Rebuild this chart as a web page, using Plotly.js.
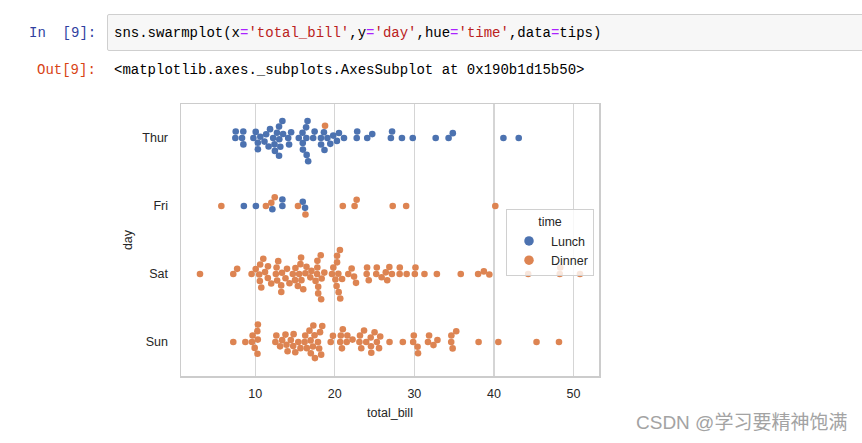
<!DOCTYPE html>
<html>
<head>
<meta charset="utf-8">
<script src="https://cdn.plot.ly/plotly-3.0.1.min.js"></script>
<style>
  html, body { margin:0; padding:0; background:#fff; width:862px; height:443px; overflow:hidden; }
  #chart { position:absolute; left:0; top:0; width:862px; height:443px; }
  .mono { font-family: "Liberation Mono", "DejaVu Sans Mono", monospace; font-size:14px; white-space:pre; position:absolute; line-height:16px; }
  #inprompt { left:29px; top:25px; color:#303F9F; }
  #outprompt { left:37px; top:62px; color:#D84315; }
  #inbox { position:absolute; left:107px; top:14px; width:770px; height:35px; background:#f7f7f7; border:1px solid #cfcfcf; border-radius:2px; }
  #code { left:114px; top:25px; color:#000; }
  #outtext { left:114px; top:62px; color:#000; }
  .s { color:#BA2121; }
  .o { color:#AA22FF; }
  #wm { position:absolute; left:636px; top:413px; font-family:"Liberation Sans","Noto Sans CJK SC",sans-serif; font-size:19px; line-height:20px; color:#a3a3a3; white-space:nowrap; text-shadow:0 0 1px #fff; }
</style>
</head>
<body>
<div id="chart"></div>
<div id="inbox"></div>
<div class="mono" id="inprompt">In  [9]:</div>
<div class="mono" id="code">sns.swarmplot(x<span class="o">=</span><span class="s">'total_bill'</span>,y<span class="o">=</span><span class="s">'day'</span>,hue<span class="o">=</span><span class="s">'time'</span>,data<span class="o">=</span>tips)</div>
<div class="mono" id="outprompt">Out[9]:</div>
<div class="mono" id="outtext">&lt;matplotlib.axes._subplots.AxesSubplot at 0x190b1d15b50&gt;</div>
<div id="wm">CSDN @学习要精神饱满</div>
<script>
// ---- data (tips dataset, total_bill by day and time) ----
const days = ["Thur", "Fri", "Sat", "Sun"];
const hues = ["Lunch", "Dinner"];
const xTicks = [10, 20, 30, 40, 50];

const thurLunch = [27.2,22.76,17.29,19.44,16.66,10.07,32.68,15.98,34.83,13.03,18.28,24.71,21.16,
  10.65,12.43,24.08,11.69,13.42,14.26,15.95,12.48,29.8,8.52,14.52,11.38,22.82,19.08,20.27,11.17,12.26,
  18.26,8.51,10.33,14.15,16.0,13.16,17.47,34.3,41.19,27.05,16.43,8.35,18.64,11.87,9.78,7.51,
  19.81,28.44,15.48,16.58,7.56,10.34,43.11,13.0,13.51,18.71,12.74,13.0,16.4,20.53,16.47];
const thurDinner = [18.78];
const friLunch = [12.16,13.42,8.58,15.98,13.42,16.27,10.09];
const friDinner = [28.97,22.49,5.75,16.32,22.75,40.17,27.28,12.03,21.01,12.46,11.35,15.38];
const satLunch = [];
const satDinner = [20.65,17.92,20.29,15.77,39.42,19.82,17.81,13.37,12.69,21.7,19.65,9.55,18.35,15.06,20.69,
  17.78,24.06,16.31,16.93,18.69,31.27,16.04,
  38.01,26.41,11.24,48.27,20.29,13.81,11.02,18.29,17.59,20.08,16.45,3.07,20.23,15.01,12.02,17.07,26.86,
  25.28,14.73,10.51,17.92,
  44.3,22.42,20.92,15.36,20.49,25.21,18.24,14.31,14.0,7.25,
  10.59,10.63,50.81,15.81,
  26.59,38.73,24.27,12.76,30.06,25.89,48.33,13.27,28.17,12.9,28.15,11.59,7.74,30.14,
  20.45,13.28,22.12,24.01,15.69,11.61,10.77,15.53,10.07,12.6,32.83,35.83,29.03,27.18,22.67,17.82];
const sunLunch = [];
const sunDinner = [16.99,10.34,21.01,23.68,24.59,25.29,8.77,26.88,15.04,14.78,10.27,35.26,15.42,18.43,
  14.83,21.58,10.33,16.29,16.97,
  17.46,13.94,9.68,30.4,18.29,22.23,32.4,28.55,18.04,12.54,10.29,34.81,9.94,25.56,19.49,
  38.07,23.95,25.71,17.31,29.93,
  14.07,13.13,17.26,24.55,19.77,29.85,48.17,25.0,13.39,16.49,21.5,12.66,16.21,13.81,17.51,24.52,20.76,31.71,
  7.25,31.85,16.82,32.9,17.89,14.48,9.6,34.63,34.65,23.33,45.35,23.17,40.55,20.69,20.9,30.46,18.15,23.1,15.69];

const lunchByDay = [thurLunch, friLunch, satLunch, sunLunch];
const dinnerByDay = [thurDinner, friDinner, satDinner, sunDinner];

// ---- screen geometry ----
const W = 862, H = 443;
const plotL = 181, plotR = 599, plotT = 104, plotB = 376;
const pw = plotR - plotL, ph = plotB - plotT;

// ---- value axis limits (matplotlib autoscale with 5% margins) ----
const allVals = [].concat(...lunchByDay, ...dinnerByDay);
const vmin = Math.min(...allVals), vmax = Math.max(...allVals);
const delta = (vmax - vmin) * 0.05;
const xr = [vmin - delta, vmax + delta];
const yr = [days.length - 0.5, -0.5];

// ---- emulate the original inline figure (6x4in, 72dpi, subplot bottom .125) for the swarm layout ----
const figW = 432, figH = 288;
const axL = 0.125 * figW, axR = 0.9 * figW;
const axB = figH * (0.88 - (0.88 - 0.125)), axT = figH * 0.88;
const outw = axR - axL, outh = axT - axB;
const xScale = 1.0 / (xr[1] - xr[0]);
const m00 = outw * xScale, m02 = outw * (-xr[0] * xScale) + axL;
const yScale = 1.0 / (days.length - 0.5 - (-0.5));
const m11 = outh * yScale, m12 = (0 + outh * (0.5 * yScale)) + axB;
const dDiam = (Math.sqrt(25) + 0) * (72 / 72);

// numpy-style argsort (introsort: quicksort partitions, insertion sort for small runs)
function npArgsort(v) {
  const n = v.length, idx = [...Array(n).keys()];
  const stack = [];
  let pl = 0, pr = n - 1;
  const swap = (a, b) => { const t = idx[a]; idx[a] = idx[b]; idx[b] = t; };
  for (;;) {
    while (pr - pl > 16) {
      const pm = pl + ((pr - pl) >> 1);
      if (v[idx[pm]] < v[idx[pl]]) swap(pm, pl);
      if (v[idx[pr]] < v[idx[pm]]) swap(pr, pm);
      if (v[idx[pm]] < v[idx[pl]]) swap(pm, pl);
      const vp = v[idx[pm]];
      let pi = pl, pj = pr - 1;
      swap(pm, pj);
      for (;;) {
        do { ++pi; } while (v[idx[pi]] < vp);
        do { --pj; } while (vp < v[idx[pj]]);
        if (pi >= pj) break;
        swap(pi, pj);
      }
      swap(pi, pr - 1);
      if (pi - pl < pr - pi) { stack.push(pi + 1, pr); pr = pi - 1; }
      else { stack.push(pl, pi - 1); pl = pi + 1; }
    }
    for (let pi = pl + 1; pi <= pr; ++pi) {
      const vi = idx[pi], vp = v[vi];
      let pj = pi, pk = pi - 1;
      while (pj > pl && vp < v[idx[pk]]) { idx[pj--] = idx[pk--]; }
      idx[pj] = vi;
    }
    if (!stack.length) break;
    pr = stack.pop(); pl = stack.pop();
  }
  return idx;
}

// seaborn beeswarm (x = categorical display coordinate, y = value display coordinate)
function beeswarm(orig, d) {
  const midline = orig[0][0];
  const swarm = [orig[0]];
  for (let i = 1; i < orig.length; i++) {
    const [xi, yi] = orig[i];
    const nb = [];
    for (let j = swarm.length - 1; j >= 0; j--) {
      if ((yi - swarm[j][1]) < d) nb.unshift(swarm[j]); else break;
    }
    const cand = [[xi, yi]];
    let leftFirst = true;
    for (const [xj, yj] of nb) {
      const dy = yi - yj;
      const dx = Math.sqrt(Math.max(d * d - dy * dy, 0)) * 1.05;
      const cl = [xj - dx, yi], cr = [xj + dx, yi];
      if (leftFirst) cand.push(cl, cr); else cand.push(cr, cl);
      leftFirst = !leftFirst;
    }
    const order = npArgsort(cand.map(c => Math.abs(c[0] - midline)));
    const sorted = order.map(k => cand[k]);
    let chosen = sorted[0];
    if (nb.length) {
      chosen = null;
      for (const c of sorted) {
        if (nb.every(n => (n[0] - c[0]) * (n[0] - c[0]) + (n[1] - c[1]) * (n[1] - c[1]) >= d * d)) { chosen = c; break; }
      }
      if (!chosen) chosen = sorted[0];
    }
    swarm.push(chosen);
  }
  return swarm;
}

const colors = ["#4c72b0", "#dd8452"];
const traces = hues.map((h, k) => ({
  type: "scatter", mode: "markers", name: h, x: [], y: [],
  marker: { color: colors[k], size: 6.6, line: { width: 0 } },
  showlegend: false, hoverinfo: "x+name", cliponaxis: false
}));

days.forEach((day, di) => {
  const vals = [], hs = [];
  lunchByDay[di].forEach(v => { vals.push(v); hs.push(0); });
  dinnerByDay[di].forEach(v => { vals.push(v); hs.push(1); });
  const sorter = npArgsort(vals);
  const sv = sorter.map(k => vals[k]), sh = sorter.map(k => hs[k]);
  const cat = (0 + m11 * di) + m12;
  const orig = sv.map(v => [cat, (m00 * v + 0) + m02]);
  const sw = beeswarm(orig, dDiam);
  sw.forEach((p, i) => {
    let yData = (p[0] - m12) / m11;              // data coordinate before the axis inversion
    yData = Math.max(di - 0.4, Math.min(di + 0.4, yData)); // gutters
    traces[sh[i]].x.push(sv[i]);
    traces[sh[i]].y.push(yData);
  });
});

// legend-only traces with bigger markers
hues.forEach((h, k) => traces.push({
  type: "scatter", mode: "markers", name: h, x: [null], y: [null],
  marker: { color: colors[k], size: 9.5 }, showlegend: true
}));

const font = { family: "Liberation Sans, Arial, sans-serif", size: 12.5, color: "#262626" };
const layout = {
  width: W, height: H,
  margin: { l: plotL, r: W - plotR, t: plotT, b: H - plotB, pad: 0 },
  paper_bgcolor: "rgba(0,0,0,0)", plot_bgcolor: "#fff",
  font: font,
  xaxis: {
    range: xr, tickvals: xTicks, ticks: "", showgrid: true, gridcolor: "#d5d5d5", gridwidth: 1.2,
    zeroline: false, showline: true, linecolor: "#cccccc", linewidth: 1.5, mirror: true,
    ticklabelstandoff: 5,
    title: { text: "total_bill", font: font, standoff: 8 }
  },
  yaxis: {
    range: yr, tickvals: days.map((d, i) => i), ticktext: days, ticks: "", showgrid: false,
    zeroline: false, showline: true, linecolor: "#cccccc", linewidth: 1.5, mirror: true,
    ticklabelstandoff: 9,
    title: { text: "day", font: font, standoff: 7 }
  },
  showlegend: true,
  legend: {
    x: (594 - plotL) / pw, xanchor: "right", y: (plotB - 209) / ph, yanchor: "top",
    bgcolor: "rgba(255,255,255,0.8)", bordercolor: "#d0d0d0", borderwidth: 1,
    font: font, title: { text: "time", side: "top center", font: font },
    itemsizing: "trace", tracegroupgap: 0, itemwidth: 34
  }
};

Plotly.newPlot("chart", traces, layout, { displayModeBar: false, staticPlot: true });
</script>
</body>
</html>
